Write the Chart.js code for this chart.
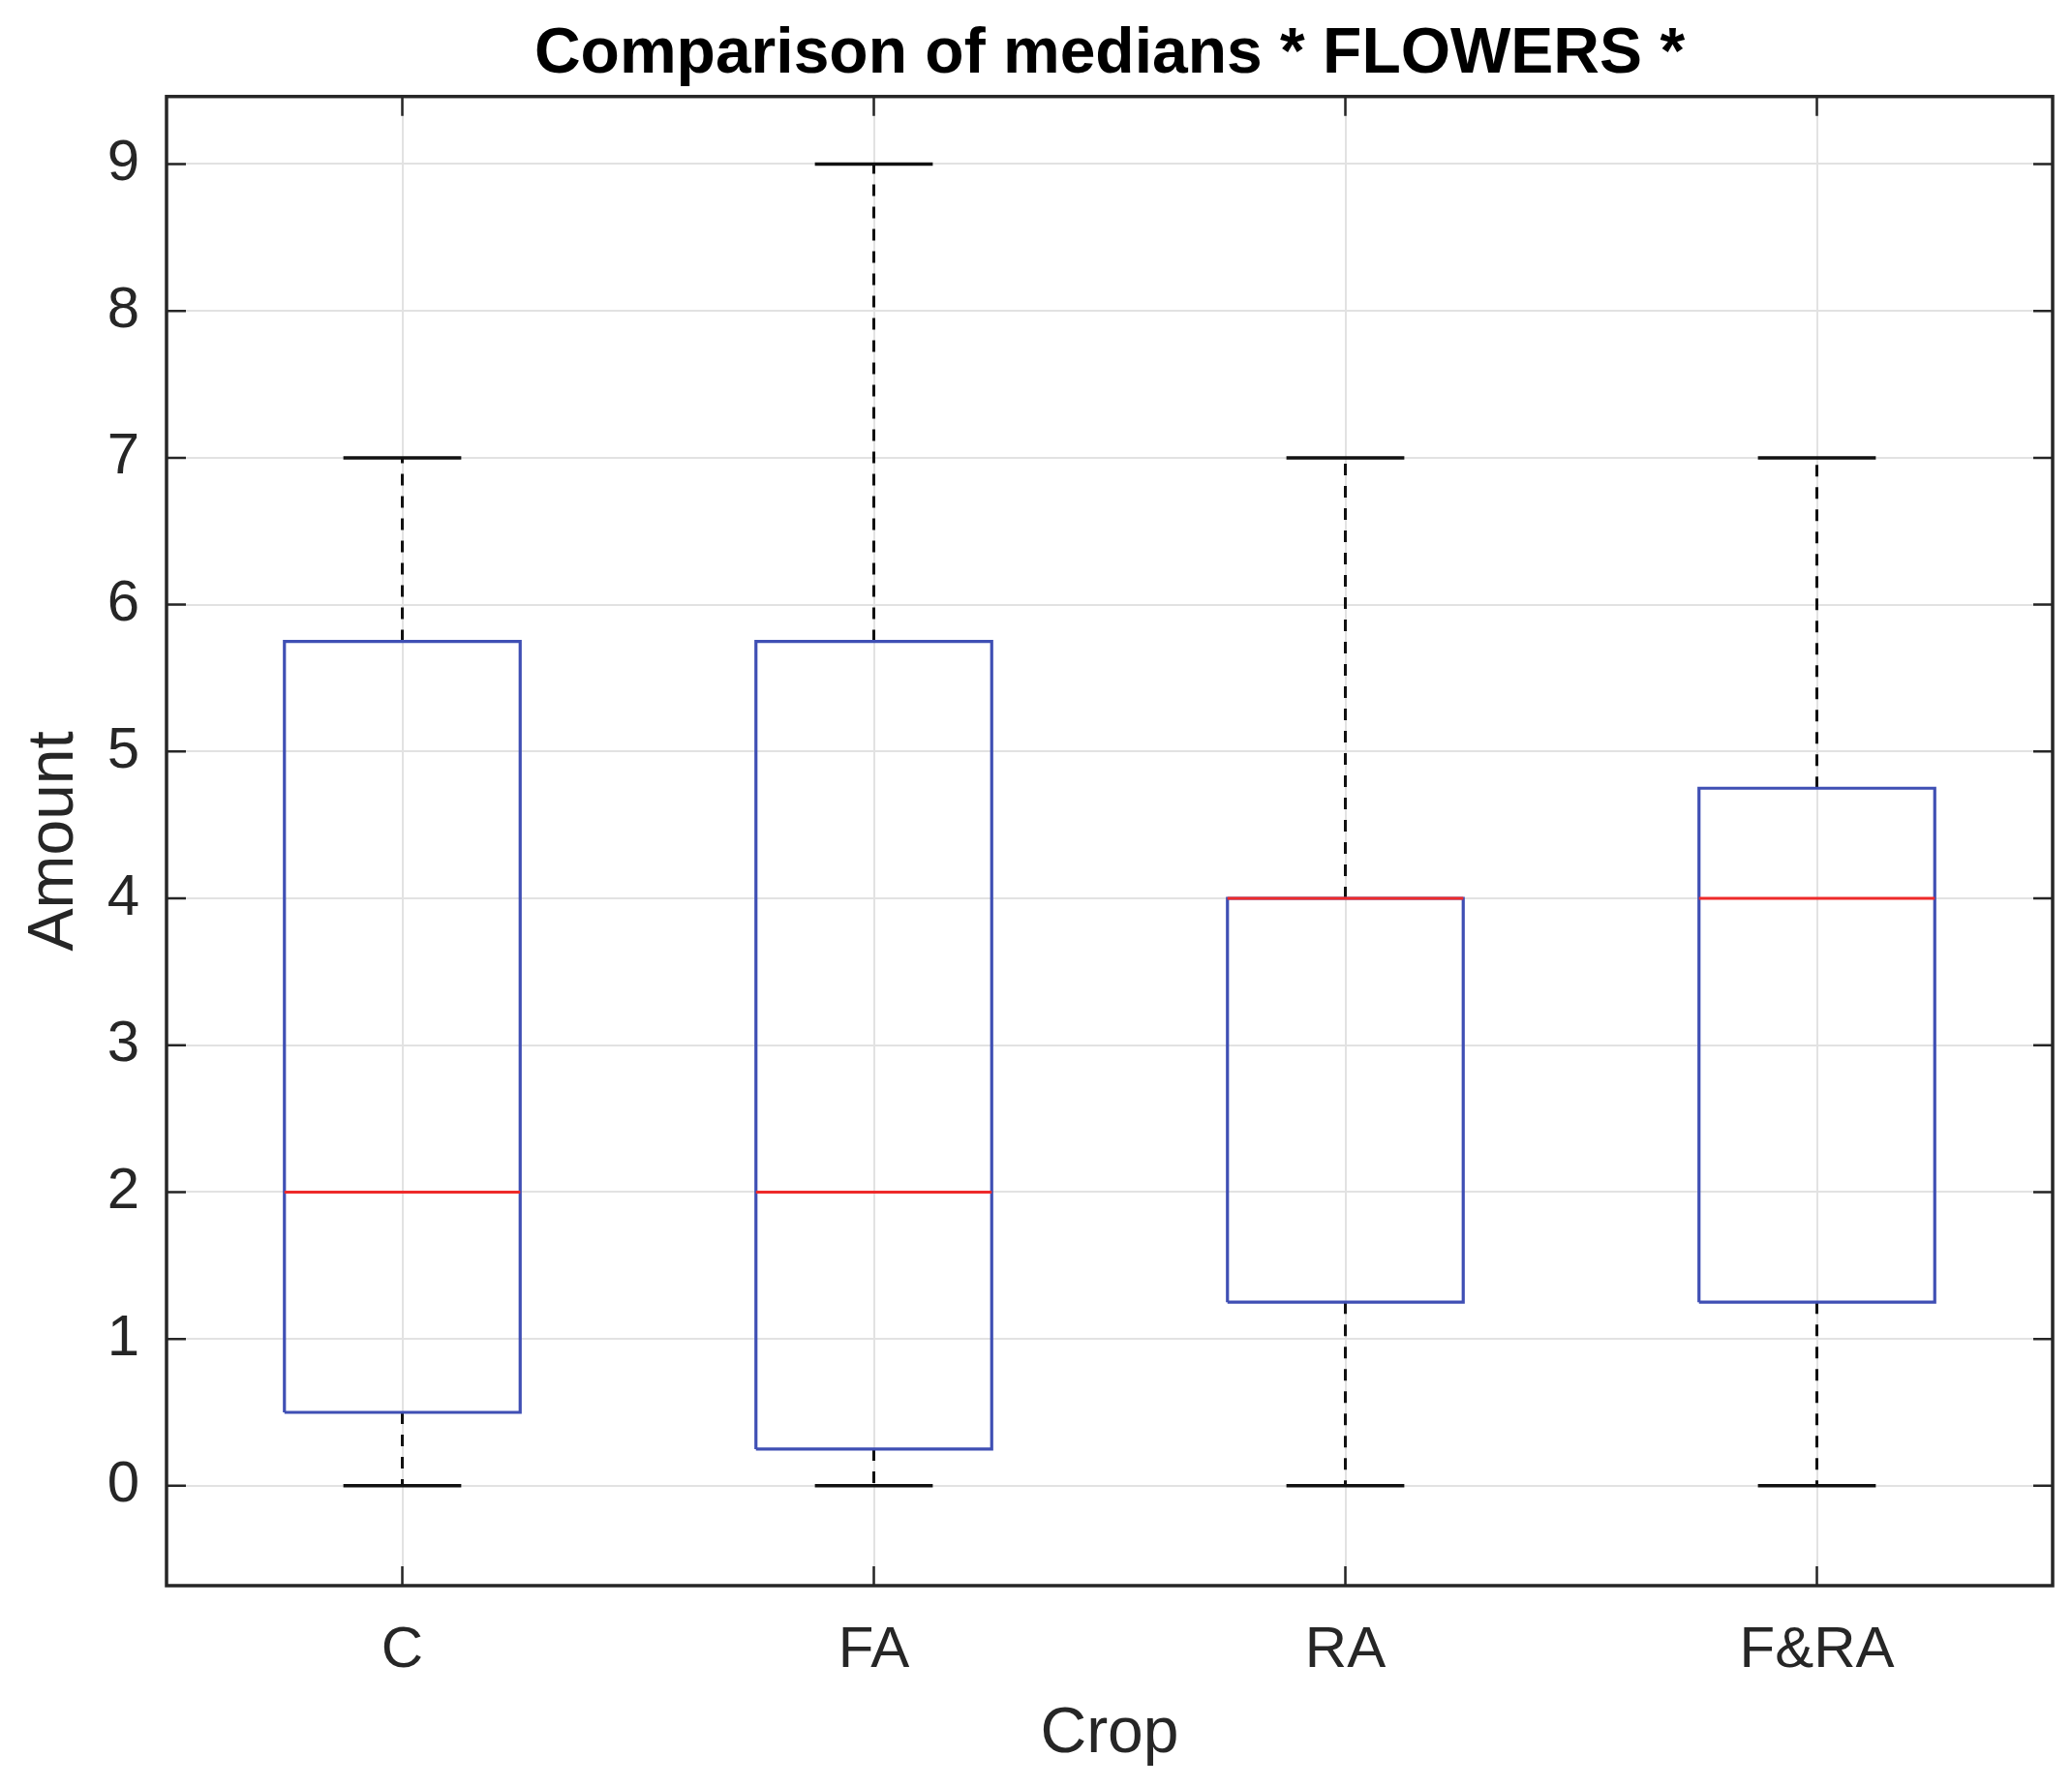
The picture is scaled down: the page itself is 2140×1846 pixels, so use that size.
<!DOCTYPE html>
<html>
<head>
<meta charset="utf-8">
<style>
  html, body { margin: 0; padding: 0; background: #ffffff; }
  #wrap { width: 2140px; height: 1846px; }
</style>
<script src="https://cdn.jsdelivr.net/npm/chart.js@4.4.1/dist/chart.umd.min.js"></script>
</head>
<body>
<div id="wrap"><canvas id="c" width="2140" height="1846"></canvas></div>
<script>
// ---- data ----
const categories = ['C', 'FA', 'RA', 'F&RA'];
const whiskerLow = [0, 0, 0, 0];
const quartile1  = [0.5, 0.25, 1.25, 1.25];
const medians    = [2, 2, 4, 4];
const quartile3  = [5.75, 5.75, 4, 4.75];
const whiskerHigh = [7, 9, 7, 7];
const yTicks = [0, 1, 2, 3, 4, 5, 6, 7, 8, 9];
const yMin = -0.68, yMax = 9.46;

// ---- styling constants ----
const BOX_HALF = 0.25, CAP_HALF = 0.125;
const BLUE = '#3f4fb4', RED = '#ee2a2a', BLACK = '#111111', AXIS = '#262626', GRID = '#e2e2e2';
const FONT = "'Liberation Sans', Arial, Helvetica, sans-serif";

function seg(points, color, dash, width) {
  return {
    type: 'scatter', showLine: true, data: points,
    borderColor: color, backgroundColor: color, borderWidth: width,
    borderDash: dash || [], pointRadius: 0, pointHoverRadius: 0, fill: false, tension: 0
  };
}

const medianSets = [], boxSets = [], whiskerSets = [], capSets = [];
categories.forEach((cat, i) => {
  const x = i + 1;
  medianSets.push(seg([{x: x - BOX_HALF, y: medians[i]}, {x: x + BOX_HALF, y: medians[i]}], RED, null, 3));
  boxSets.push(seg([
    {x: x - BOX_HALF, y: quartile1[i]}, {x: x + BOX_HALF, y: quartile1[i]},
    {x: x + BOX_HALF, y: quartile3[i]}, {x: x - BOX_HALF, y: quartile3[i]},
    {x: x - BOX_HALF, y: quartile1[i]}], BLUE, null, 3.2));
  whiskerSets.push(seg([{x: x, y: quartile3[i]}, {x: x, y: whiskerHigh[i]}], BLACK, [12, 11], 3));
  whiskerSets.push(seg([{x: x, y: quartile1[i]}, {x: x, y: whiskerLow[i]}], BLACK, [12, 11], 3));
  capSets.push(seg([{x: x - CAP_HALF, y: whiskerHigh[i]}, {x: x + CAP_HALF, y: whiskerHigh[i]}], BLACK, null, 3.5));
  capSets.push(seg([{x: x - CAP_HALF, y: whiskerLow[i]}, {x: x + CAP_HALF, y: whiskerLow[i]}], BLACK, null, 3.5));
});

const frameTicks = {
  id: 'frameTicks',
  afterDraw(chart) {
    const {ctx, chartArea: a, scales: {x, y}} = chart;
    const L = 20;
    ctx.save();
    ctx.strokeStyle = AXIS;
    ctx.lineWidth = 2.5;
    ctx.beginPath();
    y.ticks.forEach(t => {
      const py = y.getPixelForValue(t.value);
      ctx.moveTo(a.left, py); ctx.lineTo(a.left + L, py);
      ctx.moveTo(a.right, py); ctx.lineTo(a.right - L, py);
    });
    x.ticks.forEach(t => {
      const px = x.getPixelForValue(t.value);
      ctx.moveTo(px, a.bottom); ctx.lineTo(px, a.bottom - L);
      ctx.moveTo(px, a.top); ctx.lineTo(px, a.top + L);
    });
    ctx.stroke();
    ctx.lineWidth = 3.5;
    ctx.strokeRect(a.left, a.top, a.right - a.left, a.bottom - a.top);
    ctx.restore();
  }
};

new Chart(document.getElementById('c'), {
  data: { datasets: [...medianSets, ...boxSets, ...capSets, ...whiskerSets] },
  options: {
    responsive: false,
    animation: false,
    devicePixelRatio: 1,
    layout: { padding: { left: 0, right: 20, top: 0, bottom: 0 } },
    plugins: {
      legend: { display: false },
      tooltip: { enabled: false },
      title: {
        display: true,
        fullSize: false,
        text: 'Comparison of medians * FLOWERS *',
        color: '#000000',
        font: { family: FONT, size: 66, weight: 'bold', lineHeight: 1.2 },
        padding: { top: 17, bottom: 3.5 }
      }
    },
    scales: {
      x: {
        type: 'linear', min: 0.5, max: 4.5,
        afterBuildTicks: s => { s.ticks = categories.map((c, i) => ({value: i + 1})); },
        afterFit: s => { s.height = 208; },
        ticks: {
          callback: v => categories[v - 1],
          color: AXIS, padding: 31, maxRotation: 0, autoSkip: false,
          font: { family: FONT, size: 60, lineHeight: 1.2 }
        },
        grid: { color: GRID, lineWidth: 2, drawTicks: false },
        border: { display: false },
        title: {
          display: true, text: 'Crop', color: AXIS,
          font: { family: FONT, size: 66, lineHeight: 1.2 },
          padding: { top: 0, bottom: 15 }
        }
      },
      y: {
        type: 'linear', min: yMin, max: yMax,
        afterBuildTicks: s => { s.ticks = yTicks.map(v => ({value: v})); },
        afterFit: s => { s.width = 172; },
        ticks: {
          color: AXIS, padding: 28,
          font: { family: FONT, size: 60, lineHeight: 1.2 }
        },
        grid: { color: GRID, lineWidth: 2, drawTicks: false },
        border: { display: false },
        title: {
          display: true, text: 'Amount', color: AXIS,
          font: { family: FONT, size: 66, lineHeight: 1.2 },
          padding: { top: 17, bottom: 0 }
        }
      }
    }
  },
  plugins: [frameTicks]
});
</script>
</body>
</html>
